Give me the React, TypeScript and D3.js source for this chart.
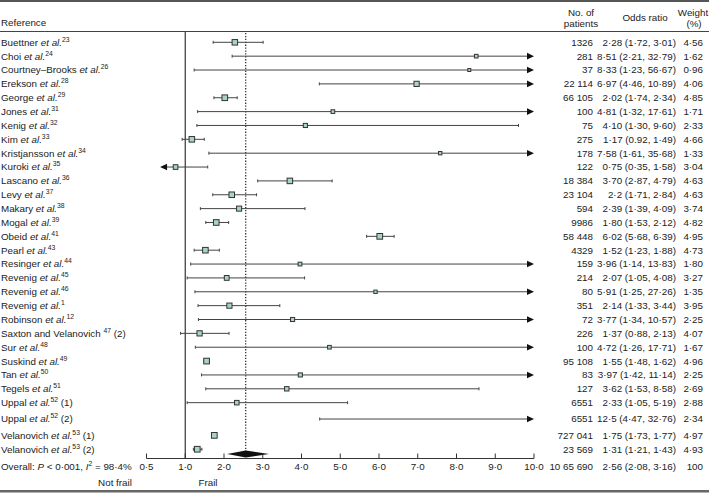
import React from "react";
import * as d3 from "d3";

// ---------- data ----------
const authors = ["Buettner", "Choi", "Courtney–Brooks", "Erekson", "George", "Jones", "Kenig", "Kim", "Kristjansson", "Kuroki", "Lascano", "Levy", "Makary", "Mogal", "Obeid", "Pearl", "Resinger", "Revenig", "Revenig", "Revenig", "Robinson", "Saxton and Velanovich", "Sur", "Suskind", "Tan", "Tegels", "Uppal", "Uppal", "Velanovich", "Velanovich"];
const etAl = [true, true, true, true, true, true, true, true, true, true, true, true, true, true, true, true, true, true, true, true, true, false, true, true, true, true, true, true, true, true];
const refNums = ["23", "24", "26", "28", "29", "31", "32", "33", "34", "35", "36", "37", "38", "39", "41", "43", "44", "45", "46", "1", "12", "47", "48", "49", "50", "51", "52", "52", "53", "53"];
const suffixes = ["", "", "", "", "", "", "", "", "", "", "", "", "", "", "", "", "", "", "", "", "", " (2)", "", "", "", "", " (1)", " (2)", " (1)", " (2)"];
const patients = ["1326", "281", "37", "22 114", "66 105", "100", "75", "275", "178", "122", "18 384", "23 104", "594", "9986", "58 448", "4329", "159", "214", "80", "351", "72", "226", "100", "95 108", "83", "127", "6551", "6551", "727 041", "23 569"];
const oddsRatio = [2.28, 8.51, 8.33, 6.97, 2.02, 4.81, 4.10, 1.17, 7.58, 0.75, 3.70, 2.2, 2.39, 1.80, 6.02, 1.52, 3.96, 2.07, 5.91, 2.14, 3.77, 1.37, 4.72, 1.55, 3.97, 3.62, 2.33, 12.5, 1.75, 1.31];
const ciLow = [1.72, 2.21, 1.23, 4.46, 1.74, 1.32, 1.30, 0.92, 1.61, 0.35, 2.87, 1.71, 1.39, 1.53, 5.68, 1.23, 1.14, 1.05, 1.25, 1.33, 1.34, 0.88, 1.26, 1.48, 1.42, 1.53, 1.05, 4.47, 1.73, 1.21];
const ciHigh = [3.01, 32.79, 56.67, 10.89, 2.34, 17.61, 9.60, 1.49, 35.68, 1.58, 4.79, 2.84, 4.09, 2.12, 6.39, 1.88, 13.83, 4.08, 27.26, 3.44, 10.57, 2.13, 17.71, 1.62, 11.14, 8.58, 5.19, 32.76, 1.77, 1.43];
const orText = ["2·28 (1·72, 3·01)", "8·51 (2·21, 32·79)", "8·33 (1·23, 56·67)", "6·97 (4·46, 10·89)", "2·02 (1·74, 2·34)", "4·81 (1·32, 17·61)", "4·10 (1·30, 9·60)", "1·17 (0.92, 1·49)", "7·58 (1·61, 35·68)", "0·75 (0·35, 1·58)", "3·70 (2·87, 4·79)", "2·2 (1·71, 2·84)", "2·39 (1·39, 4·09)", "1·80 (1·53, 2·12)", "6·02 (5·68, 6·39)", "1·52 (1·23, 1·88)", "3·96 (1·14, 13·83)", "2·07 (1·05, 4·08)", "5·91 (1·25, 27·26)", "2·14 (1·33, 3·44)", "3·77 (1·34, 10·57)", "1·37 (0·88, 2·13)", "4·72 (1·26, 17·71)", "1·55 (1·48, 1·62)", "3·97 (1·42, 11·14)", "3·62 (1·53, 8·58)", "2·33 (1·05, 5·19)", "12·5 (4·47, 32·76)", "1·75 (1·73, 1·77)", "1·31 (1·21, 1·43)"];
const weights = [4.56, 1.62, 0.96, 4.06, 4.85, 1.71, 2.33, 4.66, 1.33, 3.04, 4.63, 4.63, 3.74, 4.82, 4.95, 4.73, 1.80, 3.27, 1.35, 3.95, 2.25, 4.07, 1.67, 4.96, 2.25, 2.69, 2.88, 2.34, 4.97, 4.93];

const overallOR = 2.56;
const overallLow = 2.08;
const overallHigh = 3.16;
const overallPatients = "10 65 690";
const overallORText = "2·56 (2·08, 3·16)";
const overallWeight = "100";

const tickValues = [0, 1, 2, 3, 4, 5, 6, 7, 8, 9, 10];
const tickLabels = ["0·5", "1·0", "2·0", "3·0", "4·0", "5·0", "6·0", "7·0", "8·0", "9·0", "10·0"];

// ---------- layout ----------
const W = 709;
const H = 494;
const FS = 9.8;
const TEXT = "#222";
const LINE = "#444";
const FILL = "#a8d4c6";
const FONT = "'Liberation Sans', Arial, Helvetica, sans-serif";

const x = d3.scaleLinear().domain([0, 10]).range([146.5, 534]);
const rowStep = 13.86;
const rowTop = 42.3;
const rowY = (i: number) => rowTop + i * rowStep + (i >= 28 ? 5 : i === 27 ? 2.5 : 0);
const axisY = 458.5;
const overallTextY = 466.5;
const diamondY = 454;

const fmt = (v: number) => v.toFixed(2).replace(".", "·");

function Label({ i }: { i: number }) {
  const y = rowY(i);
  return (
    <text x={1} y={y} dy="0.35em" fontSize={FS} fill={TEXT}>
      <tspan>{authors[i] + " "}</tspan>
      {etAl[i] ? <tspan fontStyle="italic">et al.</tspan> : null}
      <tspan fontSize={6.8} dy={-4}>{refNums[i]}</tspan>
      {suffixes[i] ? <tspan dy={4}>{suffixes[i]}</tspan> : null}
    </text>
  );
}

function Row({ i }: { i: number }) {
  const y = rowY(i);
  const lo = ciLow[i];
  const hi = ciHigh[i];
  const est = oddsRatio[i];
  const xMax = x.domain()[1];
  const x1 = x(lo);
  const rightArrow = hi > xMax;
  const leftArrow = lo < 0.5;
  const x2 = rightArrow ? x(xMax) - 6 : x(hi);
  const side = 2.2 * Math.sqrt(weights[i]) + 0.8;
  return (
    <g>
      <line x1={leftArrow ? x1 + 6 : x1} x2={x2} y1={y} y2={y} stroke={LINE} strokeWidth={1} />
      {!leftArrow && <line x1={x1} x2={x1} y1={y - 1.5} y2={y + 1.5} stroke={LINE} strokeWidth={1} />}
      {!rightArrow && <line x1={x2} x2={x2} y1={y - 1.5} y2={y + 1.5} stroke={LINE} strokeWidth={1} />}
      {rightArrow && (
        <path d={`M${x(xMax)},${y} L${x(xMax) - 7},${y - 3.3} L${x(xMax) - 7},${y + 3.3} Z`} fill="#111" />
      )}
      {leftArrow && (
        <path d={`M${x1},${y} L${x1 + 7},${y - 3.3} L${x1 + 7},${y + 3.3} Z`} fill="#111" />
      )}
      {est <= xMax && (
        <rect x={x(est) - side / 2} y={y - side / 2} width={side} height={side} fill={FILL} stroke="#333" strokeWidth={1} />
      )}
    </g>
  );
}

export default function App() {
  const rows = d3.range(authors.length);
  return (
    <svg width={W} height={H} style={{ position: "absolute", left: 0, top: 0, background: "#fff" }} fontFamily={FONT}>
      {/* frame lines */}
      <rect x={0} y={0} width={W} height={2} fill="#555" />
      <line x1={0} x2={W} y1={31.5} y2={31.5} stroke={LINE} strokeWidth={1} />
      <rect x={0} y={490} width={W} height={2.5} fill="#666" />

      {/* header */}
      <text x={1} y={23} dy="0.35em" fontSize={FS} fill={TEXT}>Reference</text>
      <text x={581} y={12.5} dy="0.35em" fontSize={FS} fill={TEXT} textAnchor="middle">No. of</text>
      <text x={581} y={23.5} dy="0.35em" fontSize={FS} fill={TEXT} textAnchor="middle">patients</text>
      <text x={645} y={18} dy="0.35em" fontSize={FS} fill={TEXT} textAnchor="middle">Odds ratio</text>
      <text x={693} y={12.5} dy="0.35em" fontSize={FS} fill={TEXT} textAnchor="middle">Weight</text>
      <text x={694} y={23.5} dy="0.35em" fontSize={FS} fill={TEXT} textAnchor="middle">(%)</text>

      {/* reference lines */}
      <line x1={x(1)} x2={x(1)} y1={31.5} y2={axisY} stroke="#333" strokeWidth={1.2} />
      <line x1={x(overallOR)} x2={x(overallOR)} y1={33} y2={diamondY - 2} stroke="#333" strokeWidth={1.3} strokeDasharray="1.3,1.6" />

      {rows.map((i) => (
        <g key={i}>
          <Label i={i} />
          <Row i={i} />
          <text x={593} y={rowY(i)} dy="0.35em" fontSize={FS} fill={TEXT} textAnchor="end">{patients[i]}</text>
          <text x={676} y={rowY(i)} dy="0.35em" fontSize={FS} fill={TEXT} textAnchor="end">{orText[i]}</text>
          <text x={703} y={rowY(i)} dy="0.35em" fontSize={FS} fill={TEXT} textAnchor="end">{fmt(weights[i])}</text>
        </g>
      ))}

      {/* overall diamond */}
      <path
        d={`M${x(overallLow)},${diamondY} L${x(overallOR)},${diamondY - 3.5} L${x(overallHigh)},${diamondY} L${x(overallOR)},${diamondY + 3.5} Z`}
        fill="#111"
      />

      {/* axis */}
      <line x1={x(0)} x2={x(10)} y1={axisY} y2={axisY} stroke="#333" strokeWidth={1} />
      {tickValues.map((t, k) => (
        <g key={t}>
          <line x1={x(t)} x2={x(t)} y1={axisY} y2={axisY - 5} stroke="#333" strokeWidth={1} />
          <text x={x(t)} y={overallTextY} dy="0.35em" fontSize={FS} fill={TEXT} textAnchor="middle">{tickLabels[k]}</text>
        </g>
      ))}

      {/* overall row */}
      <text x={1} y={overallTextY} dy="0.35em" fontSize={FS} fill={TEXT}>
        <tspan>Overall: </tspan>
        <tspan fontStyle="italic">P</tspan>
        <tspan>{" < 0·001, "}</tspan>
        <tspan fontStyle="italic">I</tspan>
        <tspan fontSize={6.8} dy={-4}>2</tspan>
        <tspan dy={4}>{" = 98·4%"}</tspan>
      </text>
      <text x={593} y={overallTextY} dy="0.35em" fontSize={FS} fill={TEXT} textAnchor="end">{overallPatients}</text>
      <text x={676} y={overallTextY} dy="0.35em" fontSize={FS} fill={TEXT} textAnchor="end">{overallORText}</text>
      <text x={703} y={overallTextY} dy="0.35em" fontSize={FS} fill={TEXT} textAnchor="end">{overallWeight}</text>

      {/* direction labels */}
      <text x={115} y={483} dy="0.35em" fontSize={FS} fill={TEXT} textAnchor="middle">Not frail</text>
      <text x={208} y={483} dy="0.35em" fontSize={FS} fill={TEXT} textAnchor="middle">Frail</text>
    </svg>
  );
}
